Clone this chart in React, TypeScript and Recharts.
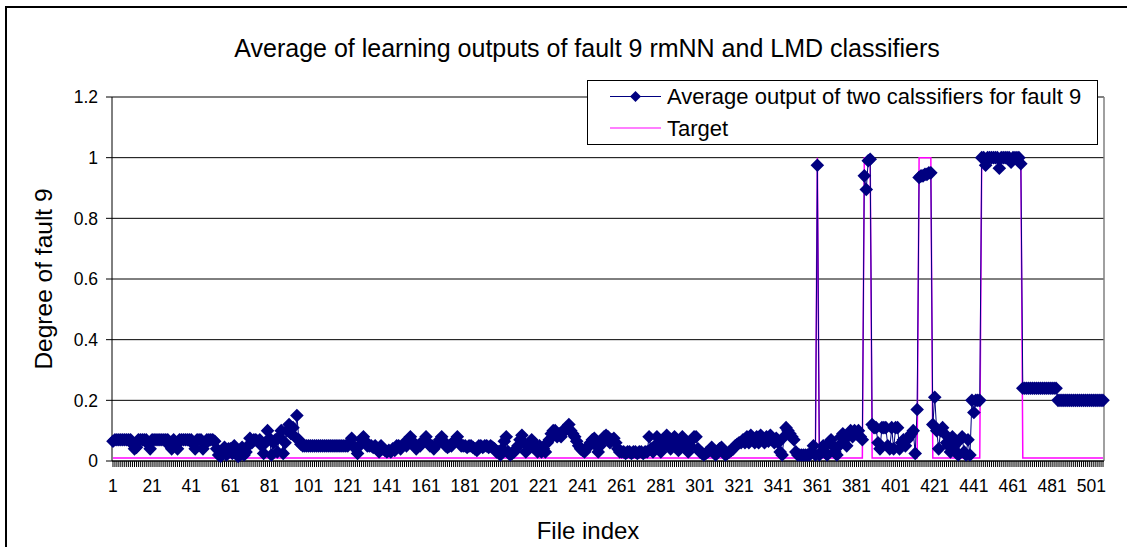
import React from 'react';
import { LineChart, Line, XAxis, YAxis, CartesianGrid, Legend, ReferenceLine, Label } from 'recharts';

const chartTitle = 'Average of learning outputs of fault 9 rmNN and LMD classifiers';
const seriesNames = ['Average output of two calssifiers for fault 9', 'Target'];

// File indices (categories)
const fileIndex: number[] = Array.from({ length: 507 }, (_, i) => i + 1);

// X tick labels shown
const xTickLabels: number[] = [1, 21, 41, 61, 81, 101, 121, 141, 161, 181, 201, 221, 241, 261, 281, 301, 321, 341, 361, 381, 401, 421, 441, 461, 481, 501];

// Y tick values
const yTicks: number[] = [0, 0.2, 0.4, 0.6, 0.8, 1, 1.2];

// Average output of two classifiers
const avgOutput: number[] = [
  0.065, 0.07, 0.07, 0.07, 0.07, 0.07, 0.07, 0.07, 0.07, 0.07, 0.055, 0.04, 0.045, 0.07, 0.07, 0.07, 0.07, 0.07, 0.055, 0.04,
  0.07, 0.07, 0.07, 0.07, 0.07, 0.07, 0.07, 0.07, 0.07, 0.05, 0.04, 0.07, 0.05, 0.04, 0.07, 0.07, 0.07, 0.07, 0.07, 0.07,
  0.07, 0.055, 0.04, 0.07, 0.07, 0.07, 0.04, 0.055, 0.07, 0.07, 0.07, 0.07, 0.065, 0.04, 0.02, 0.015, 0.03, 0.045, 0.02, 0.04,
  0.04, 0.025, 0.05, 0.03, 0.015, 0.02, 0.045, 0.02, 0.03, 0.05, 0.075, 0.06, 0.07, 0.07, 0.065, 0.07, 0.05, 0.025, 0.06, 0.1,
  0.075, 0.02, 0.06, 0.07, 0.03, 0.08, 0.1, 0.025, 0.06, 0.1, 0.12, 0.09, 0.11, 0.08, 0.15, 0.07, 0.055, 0.05, 0.05, 0.05,
  0.05, 0.05, 0.05, 0.05, 0.05, 0.05, 0.05, 0.05, 0.05, 0.05, 0.05, 0.05, 0.05, 0.05, 0.05, 0.05, 0.05, 0.05, 0.05, 0.05,
  0.05, 0.06, 0.075, 0.05, 0.04, 0.025, 0.05, 0.07, 0.08, 0.065, 0.05, 0.05, 0.05, 0.045, 0.05, 0.04, 0.03, 0.05, 0.04, 0.035,
  0.03, 0.035, 0.03, 0.04, 0.035, 0.05, 0.05, 0.04, 0.05, 0.06, 0.05, 0.065, 0.08, 0.065, 0.05, 0.04, 0.05, 0.05, 0.06, 0.07,
  0.08, 0.06, 0.05, 0.05, 0.04, 0.05, 0.06, 0.07, 0.08, 0.065, 0.05, 0.045, 0.05, 0.05, 0.06, 0.07, 0.08, 0.06, 0.05, 0.05,
  0.05, 0.045, 0.05, 0.05, 0.045, 0.04, 0.035, 0.05, 0.05, 0.045, 0.05, 0.05, 0.045, 0.05, 0.045, 0.04, 0.03, 0.03, 0.02, 0.04,
  0.065, 0.08, 0.03, 0.02, 0.025, 0.03, 0.04, 0.05, 0.07, 0.085, 0.06, 0.03, 0.05, 0.06, 0.07, 0.06, 0.04, 0.03, 0.05, 0.03,
  0.04, 0.03, 0.06, 0.07, 0.09, 0.1, 0.1, 0.08, 0.09, 0.08, 0.1, 0.1, 0.11, 0.12, 0.1, 0.09, 0.08, 0.065, 0.05, 0.04,
  0.035, 0.03, 0.04, 0.05, 0.06, 0.07, 0.075, 0.05, 0.03, 0.05, 0.07, 0.08, 0.085, 0.08, 0.06, 0.07, 0.075, 0.06, 0.04, 0.03,
  0.03, 0.03, 0.025, 0.03, 0.03, 0.025, 0.03, 0.03, 0.025, 0.03, 0.03, 0.025, 0.03, 0.03, 0.08, 0.04, 0.03, 0.05, 0.08, 0.05,
  0.03, 0.05, 0.07, 0.085, 0.06, 0.04, 0.07, 0.08, 0.05, 0.035, 0.06, 0.08, 0.07, 0.04, 0.03, 0.05, 0.07, 0.08, 0.08, 0.04,
  0.03, 0.025, 0.02, 0.025, 0.03, 0.035, 0.045, 0.03, 0.02, 0.03, 0.04, 0.045, 0.03, 0.02, 0.025, 0.03, 0.035, 0.04, 0.05, 0.055,
  0.06, 0.06, 0.07, 0.06, 0.08, 0.06, 0.085, 0.07, 0.06, 0.08, 0.06, 0.085, 0.07, 0.06, 0.08, 0.065, 0.085, 0.07, 0.06, 0.075,
  0.06, 0.03, 0.02, 0.08, 0.11, 0.1, 0.09, 0.08, 0.07, 0.03, 0.02, 0.02, 0.02, 0.02, 0.02, 0.02, 0.02, 0.03, 0.05, 0.02,
  0.975, 0.02, 0.03, 0.05, 0.03, 0.02, 0.06, 0.07, 0.05, 0.03, 0.02, 0.05, 0.08, 0.09, 0.07, 0.05, 0.09, 0.1, 0.08, 0.1,
  0.09, 0.1, 0.08, 0.07, 0.94, 0.895, 0.99, 0.995, 0.12, 0.11, 0.11, 0.06, 0.04, 0.11, 0.11, 0.11, 0.05, 0.04, 0.11, 0.04,
  0.11, 0.11, 0.04, 0.06, 0.07, 0.05, 0.07, 0.08, 0.09, 0.1, 0.025, 0.17, 0.935, 0.94, 0.94, 0.945, 0.945, 0.95, 0.95, 0.12,
  0.21, 0.1, 0.04, 0.1, 0.11, 0.09, 0.06, 0.05, 0.03, 0.08, 0.05, 0.03, 0.02, 0.07, 0.08, 0.03, 0.02, 0.07, 0.02, 0.2,
  0.16, 0.2, 0.2, 0.2, 1.0, 1.0, 0.975, 1.0, 1.0, 1.0, 1.0, 1.0, 1.0, 0.965, 1.0, 1.0, 1.0, 1.0, 1.0, 0.985,
  1.0, 1.0, 1.0, 1.0, 0.98, 0.24, 0.24, 0.24, 0.24, 0.24, 0.24, 0.24, 0.24, 0.24, 0.24, 0.24, 0.24, 0.24, 0.24, 0.24,
  0.24, 0.24, 0.24, 0.2, 0.2, 0.2, 0.2, 0.2, 0.2, 0.2, 0.2, 0.2, 0.2, 0.2, 0.2, 0.2, 0.2, 0.2, 0.2, 0.2,
  0.2, 0.2, 0.2, 0.2, 0.2, 0.2, 0.2,
];

// File indices where the target is 1 (elsewhere the target is the low level)
const targetHighFiles: number[] = [
  361,
  385, 386, 387, 388,
  413, 414, 415, 416, 417, 418, 419,
  445, 446, 447, 448, 449, 450, 451, 452, 453, 454, 455, 456, 457, 458, 459, 460, 461, 462, 463, 464, 465,
];
const targetHigh = 1;
const targetLow = 0.01;

const data = fileIndex.map((idx, i) => ({
  idx,
  avg: avgOutput[i],
  target: targetHighFiles.includes(idx) ? targetHigh : targetLow,
}));

const NAVY = '#000080';
const MAGENTA = '#FF00FF';
const FONT = '"Liberation Sans", Arial, sans-serif';

const diamondPoints = (cx: number, cy: number, r: number) =>
  `${cx},${cy - r} ${cx + r},${cy} ${cx},${cy + r} ${cx - r},${cy}`;

const renderDiamond = (props: any) => {
  const { cx, cy, index } = props;
  if (cx == null || cy == null) return <g key={`d-${index}`} />;
  return <polygon key={`d-${index}`} points={diamondPoints(cx, cy, 6.8)} fill={NAVY} stroke="none" />;
};

const XTick = (props: any) => {
  const { x, y, payload } = props;
  if (!xTickLabels.includes(payload.value)) return <g />;
  return (
    <text x={x} y={y} dy="0.71em" textAnchor="middle" fontSize={17.5} fill="#000" fontFamily={FONT}>
      {payload.value}
    </text>
  );
};

const renderLegend = () => (
  <div style={{ width: 511, height: 65, border: '1px solid #000', background: '#fff', boxSizing: 'border-box' }}>
    <svg width={509} height={63} style={{ display: 'block' }}>
      <line x1={22} x2={73} y1={15.5} y2={15.5} stroke={NAVY} strokeWidth={1} />
      <polygon points={diamondPoints(47.5, 15.5, 5.5)} fill={NAVY} />
      <text x={79} y={15.5} dy="0.35em" fontSize={22} fill="#000" fontFamily={FONT}>{seriesNames[0]}</text>
      <line x1={22} x2={73} y1={47} y2={47} stroke={MAGENTA} strokeWidth={1.2} />
      <text x={79} y={47} dy="0.35em" fontSize={22} fill="#000" fontFamily={FONT}>{seriesNames[1]}</text>
    </svg>
  </div>
);

export default function App() {
  return (
    <div style={{ position: 'absolute', left: 0, top: 0, width: 1127, height: 547, overflow: 'hidden', background: '#fff', fontFamily: FONT }}>
      <div style={{ position: 'absolute', left: 5, top: 6, width: 1300, height: 700, border: '2px solid #000', boxSizing: 'border-box' }} />
      <div style={{ position: 'absolute', left: 0, top: 0 }}>
        <LineChart width={1127} height={547} data={data} margin={{ top: 97, right: 23, left: 0, bottom: 0 }}>
          <CartesianGrid vertical={false} stroke="#000" strokeWidth={1} />
          <XAxis
            dataKey="idx"
            type="number"
            domain={[0.5, 507.5]}
            ticks={fileIndex}
            interval={0}
            height={86}
            tickSize={6}
            tickMargin={13}
            tick={<XTick />}
            axisLine={{ stroke: '#000', strokeWidth: 1 }}
            tickLine={{ stroke: '#000', strokeWidth: 1 }}
          >
            <Label
              content={() => (
                <text x={588} y={539} textAnchor="middle" fontSize={24} fill="#000" fontFamily={FONT}>File index</text>
              )}
            />
          </XAxis>
          <YAxis
            type="number"
            domain={[0, 1.2]}
            ticks={yTicks}
            interval={0}
            width={112}
            tickSize={6}
            tickMargin={8}
            tickFormatter={(v: number) => String(Math.round(v * 10) / 10)}
            tick={{ fontSize: 17.5, fill: '#000', fontFamily: FONT }}
            axisLine={{ stroke: '#000', strokeWidth: 1 }}
            tickLine={{ stroke: '#000', strokeWidth: 1 }}
          >
            <Label
              content={() => (
                <text x={43} y={279} transform="rotate(-90, 43, 279)" dy="0.35em" textAnchor="middle" fontSize={24.5} fill="#000" fontFamily={FONT}>Degree of fault 9</text>
              )}
            />
          </YAxis>
          <ReferenceLine y={1.2} stroke="#808080" strokeWidth={1.5} />
          <ReferenceLine x={507.5} stroke="#808080" strokeWidth={1.5} />
          <Line dataKey="target" name={seriesNames[1]} stroke={MAGENTA} strokeWidth={1.5} dot={false} activeDot={false} isAnimationActive={false} />
          <Line dataKey="avg" name={seriesNames[0]} stroke={NAVY} strokeWidth={1} dot={renderDiamond} activeDot={false} isAnimationActive={false} />
          <Legend
            layout="vertical"
            align="center"
            verticalAlign="middle"
            content={renderLegend}
            wrapperStyle={{ position: 'absolute', left: 587, top: 80, width: 511, height: 65 }}
          />
        </LineChart>
      </div>
      <svg width={1127} height={547} style={{ position: 'absolute', left: 0, top: 0, pointerEvents: 'none' }}>
        <text x={587} y={57} textAnchor="middle" fontSize={25} fill="#000" fontFamily={FONT}>{chartTitle}</text>
      </svg>
    </div>
  );
}
